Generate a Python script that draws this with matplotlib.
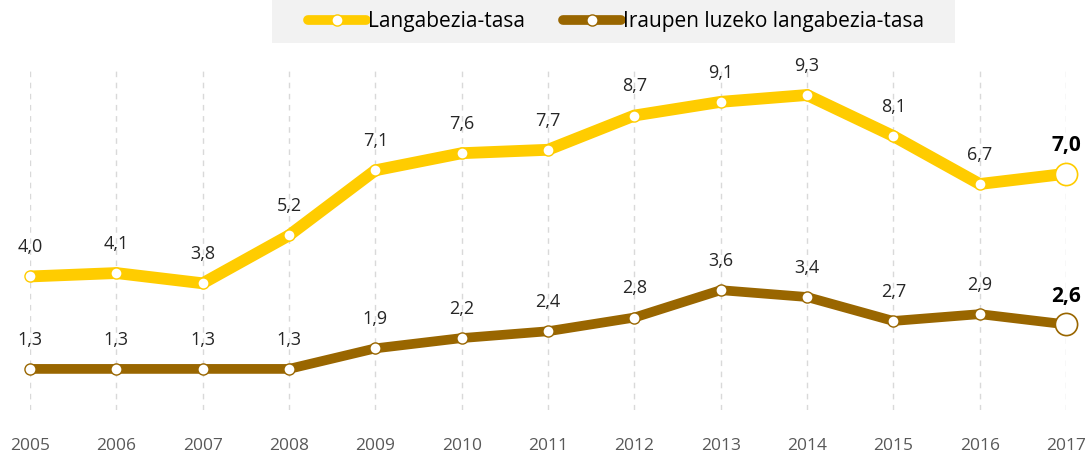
import matplotlib
matplotlib.use("Agg")
import matplotlib.pyplot as plt
from matplotlib.lines import Line2D
from matplotlib.patches import Rectangle

years = [2005, 2006, 2007, 2008, 2009, 2010, 2011, 2012, 2013, 2014, 2015, 2016, 2017]
langabezia = [4.0, 4.1, 3.8, 5.2, 7.1, 7.6, 7.7, 8.7, 9.1, 9.3, 8.1, 6.7, 7.0]
iraupen = [1.3, 1.3, 1.3, 1.3, 1.9, 2.2, 2.4, 2.8, 3.6, 3.4, 2.7, 2.9, 2.6]
series_names = ["Langabezia-tasa", "Iraupen luzeko langabezia-tasa"]
colors = ["#FFCC00", "#996600"]

plt.rcParams['font.family'] = ['Open Sans', 'DejaVu Sans']

W, H = 1091, 455
fig = plt.figure(figsize=(W / 100, H / 100), dpi=100)
left_px, right_px = 30, 1066
top_px, bot_px = 70, 410
ax = fig.add_axes([left_px / W, 1 - bot_px / H, (right_px - left_px) / W, (bot_px - top_px) / H])
ax.set_xlim(2005, 2017)
ax.set_ylim(0.1, 10.03)
for s in ax.spines.values():
    s.set_visible(False)
ax.set_yticks([])
ax.set_xticks(years)
ax.set_xticklabels([str(y) for y in years], fontsize=12.5, color="#595959")
ax.tick_params(axis='x', length=0, pad=20)
ax.grid(axis='x', color="#d9d9d9", linestyle=(0, (4, 4)), linewidth=1)
ax.set_axisbelow(True)

lws = [8.5, 7]
for vals, c, lw in zip([langabezia, iraupen], colors, lws):
    ax.plot(years, vals, color=c, lw=lw, solid_capstyle='butt',
            solid_joinstyle='miter', clip_on=False, zorder=3)
    ax.plot(years[:-1], vals[:-1], 'o', ms=8, mfc='white', mec=c, mew=1,
            clip_on=False, zorder=4)
    ax.plot(years[-1:], vals[-1:], 'o', ms=16, mfc='white', mec=c, mew=1.2,
            clip_on=False, zorder=4)
    for x, v in zip(years[:-1], vals[:-1]):
        ax.annotate(f"{v:.1f}".replace('.', ','), (x, v), xytext=(0, 21),
                    textcoords='offset points', ha='center', va='center',
                    fontsize=13, color="#262626", annotation_clip=False)
    ax.annotate(f"{vals[-1]:.1f}".replace('.', ','), (years[-1], vals[-1]), xytext=(0, 20),
                textcoords='offset points', ha='center', va='center',
                fontsize=15, fontweight='bold', color="#000000", annotation_clip=False)

fig.patches.append(Rectangle((272 / W, 1 - 43 / H), (955 - 272) / W, 43 / H,
                             transform=fig.transFigure, facecolor="#f2f2f2",
                             edgecolor='none', zorder=0))
handles = [Line2D([0], [0], color=c, lw=7, marker='o', ms=8, mfc='white', mec=c,
                  solid_capstyle='round') for c in colors]
leg = fig.legend(handles, series_names, loc='center left', bbox_to_anchor=(308 / W, 1 - 21.5 / H),
                 ncol=2, frameon=False, fontsize=15, handlelength=2.8, handletextpad=0.1,
                 columnspacing=1.8, borderpad=0, borderaxespad=0)

fig.savefig("out.png", dpi=100)
